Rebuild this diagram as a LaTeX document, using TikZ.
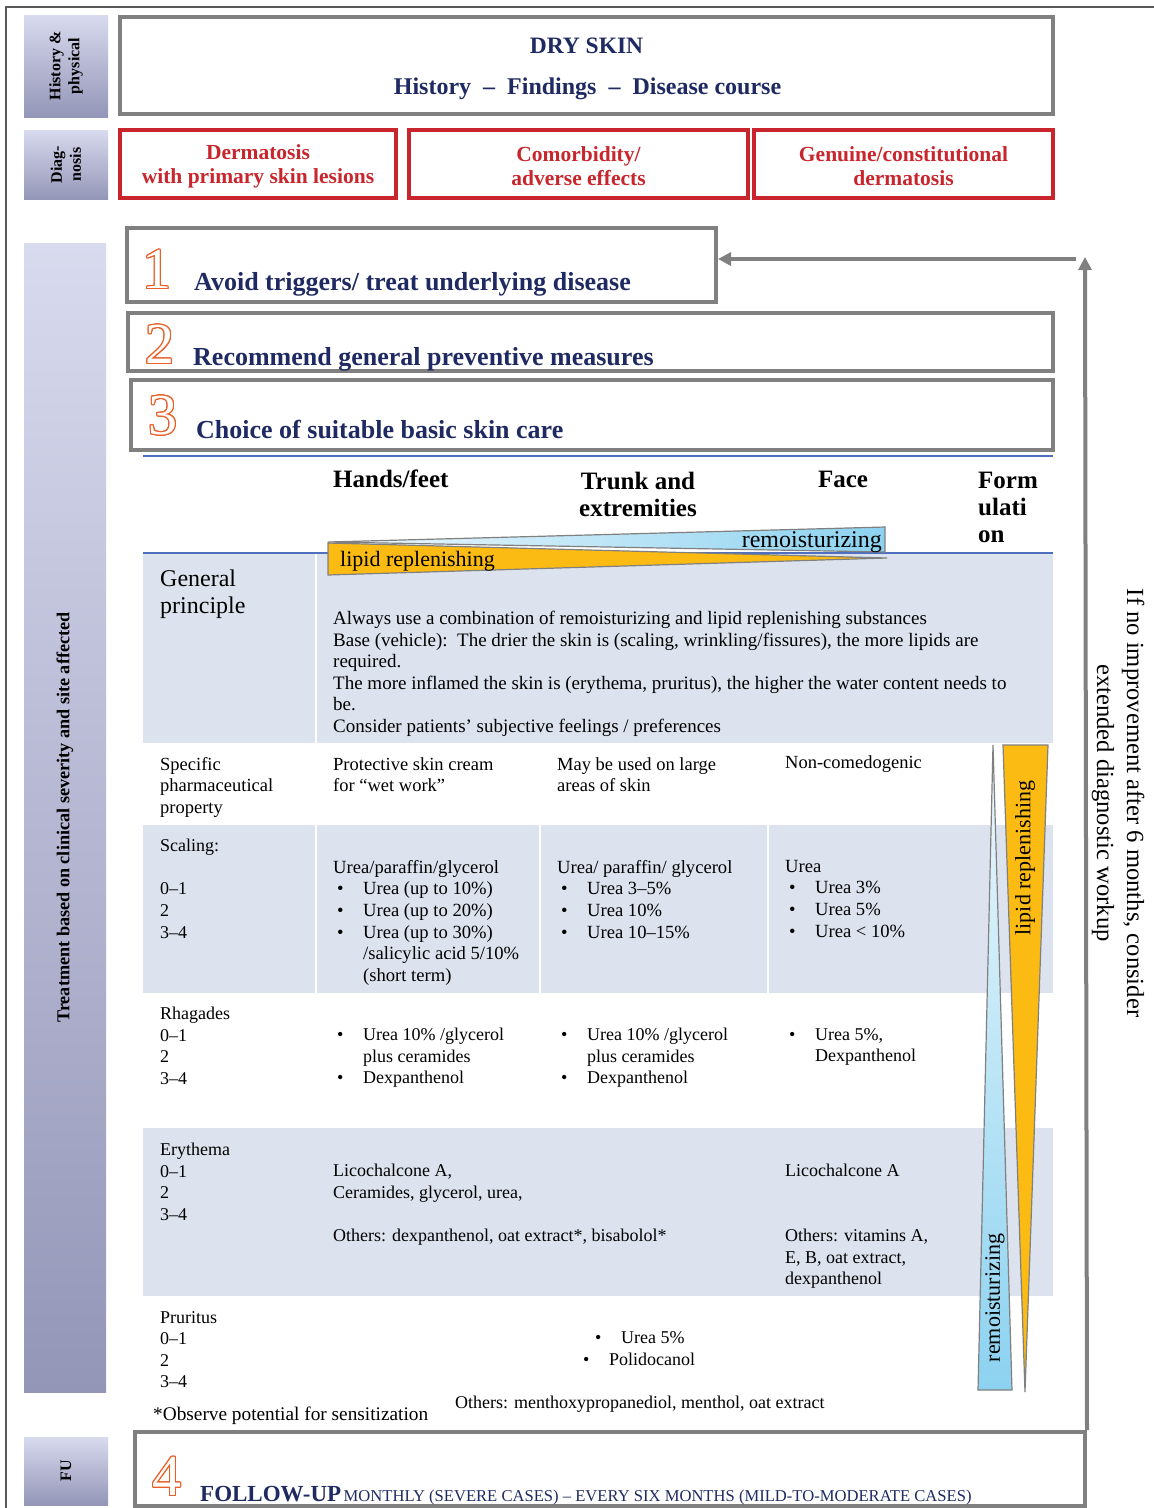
\documentclass[tikz,border=0pt]{standalone}
\usepackage{fontspec}
\setmainfont{Liberation Serif}
\usepackage{contour}
\contourlength{1.1pt}
\usetikzlibrary{arrows.meta,positioning,calc}

\definecolor{navy}{RGB}{31,42,98}
\definecolor{dxred}{RGB}{200,38,44}
\definecolor{boxgray}{RGB}{128,128,128}
\definecolor{framegray}{RGB}{90,90,90}
\definecolor{numorange}{RGB}{232,96,40}
\definecolor{lipid}{RGB}{251,187,18}
\definecolor{moist}{RGB}{140,210,240}
\definecolor{rowshade}{RGB}{221,227,238}
\definecolor{tabrule}{RGB}{78,112,190}
\definecolor{btnlight}{RGB}{216,218,238}
\definecolor{btndark}{RGB}{148,150,184}

% hohle Ziffern
\newcommand{\stepno}[1]{{\color{white}\contour{numorange}{#1}}}
% Aufzaehlung
\newcommand{\bul}{\hspace*{4pt}\makebox[26pt][l]{\textbullet}}
\newcommand{\ind}{\hspace*{30pt}}

\begin{document}
\begin{tikzpicture}[
    x=1pt, y=-1pt,
    >={Triangle[length=13pt,width=13pt]},
    sidebtn/.style  = {rotate=90, top color=btnlight, bottom color=btndark, inner sep=0pt,
                       font=\bfseries\fontsize{16}{19}\selectfont, align=center},
    graybox/.style  = {draw=boxgray, line width=4pt, fill=white, inner sep=0pt},
    redbox/.style   = {draw=dxred, line width=4pt, minimum height=68},
    redtext/.style  = {text=dxred, align=center, inner sep=0pt,
                       font=\bfseries\fontsize{21.5}{24}\selectfont},
    stepnum/.style  = {font=\fontsize{58}{58}\selectfont, inner sep=0pt},
    steptext/.style = {anchor=base west, text=navy, inner sep=0pt,
                       font=\bfseries\fontsize{26}{30}\selectfont},
    colhead/.style  = {anchor=north, align=center, inner sep=0pt,
                       font=\bfseries\fontsize{25}{27}\selectfont, execute at begin node=\strut},
    cell1/.style    = {anchor=north west, align=left, inner sep=0pt,
                       font=\fontsize{18}{21.6}\selectfont, execute at begin node=\strut},
    cell/.style     = {cell1, yshift=-4pt},
    wedge/.style    = {draw=boxgray, line width=1.2pt},
    wedgetext/.style= {inner sep=0pt, font=\fontsize{22}{26}\selectfont},
    flow/.style     = {draw=boxgray, line width=4pt, ->},
  ]

  \fill[white] (0,0) rectangle (1154,1508);
  \useasboundingbox (0,0) rectangle (1154,1508);

  % Rahmen
  \draw[framegray, line width=1.5pt] (5,7) -- (1154,7);
  \draw[framegray, line width=1.5pt] (6,7) -- (6,1508);

  % Seitenknoepfe
  \node[sidebtn, minimum width=102, minimum height=84] (hist)  at (66,66)     {History \&\\physical};
  \node[sidebtn, minimum width=69,  minimum height=84] (diag)  at (66,164.5)  {Diag-\\nosis};
  \node[sidebtn, minimum width=1149,minimum height=82, font=\bfseries\fontsize{18.2}{21}\selectfont]
        (treat) at (65,817.5) {Treatment based on clinical severity and site affected};
  \node[sidebtn, minimum width=68,  minimum height=84] (fubtn) at (66,1471)   {FU};

  % Anamnese
  \node[graybox, minimum width=933, minimum height=97] (dry) at (586.5,65.5) {};
  \node[text=navy, font=\bfseries\fontsize{23.5}{26}\selectfont] (drytitle) at (586.5,46) {DRY SKIN};
  \node[text=navy, font=\bfseries\fontsize{24}{26}\selectfont] (drysub) at (587.5,88.5)
        {History\ \ –\ \ Findings\ \ –\ \ Disease course};

  % Diagnose
  \node[redbox, minimum width=276] (dxa) at (258,164)   {};
  \node[redbox, minimum width=339] (dxb) at (578.5,164) {};
  \node[redbox, minimum width=299] (dxc) at (903.5,164) {};
  \node[redtext] (dxatext) at (258,166)   {Dermatosis\\with primary skin lesions};
  \node[redtext] (dxbtext) at (578.5,166) {Comorbidity/\\adverse effects};
  \node[redtext] (dxctext) at (903.5,166) {Genuine/constitutional\\dermatosis};

  % Schritte 1-3
  \node[graybox, minimum width=589, minimum height=74] (box1) at (421.5,265) {};
  \node[graybox, minimum width=925, minimum height=58] (box2) at (590.5,342) {};
  \node[graybox, minimum width=922, minimum height=70] (box3) at (592,415)   {};
  \node[stepnum] (num1) at (157,270) {\stepno{1}};
  \node[stepnum] (num2) at (160,345) {\stepno{2}};
  \node[stepnum] (num3) at (163,416) {\stepno{3}};
  \node[steptext] (step1) at (194,290) {Avoid triggers/ treat underlying disease};
  \node[steptext] (step2) at (193,365) {Recommend general preventive measures};
  \node[steptext] (step3) at (196,438) {Choice of suitable basic skin care};

  % Tabelle
  \fill[rowshade] (143,553)  rectangle (1053,743);
  \fill[rowshade] (143,825)  rectangle (1053,993);
  \fill[rowshade] (143,1128) rectangle (1053,1296);
  \draw[white, line width=1.5pt] (316,553) -- (316,743);
  \foreach \cx in {316,540,768}
    \draw[white, line width=1.5pt] (\cx,825) -- (\cx,993);
  \draw[tabrule, line width=2pt] (143,456) -- (1053,456);
  \draw[tabrule, line width=2pt] (143,553) -- (1053,553);

  \node[colhead, anchor=north west] (hhands) at (333,468) {Hands/feet};
  \node[colhead, yshift=-4pt] (htrunk) at (638,468) {Trunk and\\extremities};
  \node[colhead] (hface)  at (843,468) {Face};
  \node[colhead, yshift=-4pt, anchor=north west, align=left] (hform) at (978,468) {Form\\ulati\\on};

  % Keile waagrecht
  \path[wedge, left color=moist!15, right color=moist] (328,542) -- (885,527) -- (885,552) -- cycle;
  \path[wedge, fill=lipid] (328,543) -- (328,575) -- (887,558) -- cycle;
  \node[wedgetext, anchor=base west] (hlipid) at (340,566) {lipid replenishing};
  \node[wedgetext, anchor=base east, font=\fontsize{24}{26}\selectfont] (hmoist) at (882,547) {remoisturizing};

  % Allgemein
  \node[cell, font=\fontsize{24}{27}\selectfont, yshift=-2pt] (gplab) at (160,564) {General\\principle};
  \node[cell, font=\fontsize{19}{21.6}\selectfont] (gptext) at (333,607) {Always use a combination of remoisturizing and lipid replenishing substances\\
    Base (vehicle):\ \ The drier the skin is (scaling, wrinkling/fissures), the more lipids are\\
    required.\\
    The more inflamed the skin is (erythema, pruritus), the higher the water content needs to\\
    be.\\
    Consider patients’ subjective feelings / preferences};

  % Spezifisch
  \node[cell, font=\fontsize{18.5}{21.6}\selectfont] (splab) at (160,753) {Specific\\pharmaceutical\\property};
  \node[cell, font=\fontsize{18.5}{21.6}\selectfont] (sphand) at (333,753) {Protective skin cream\\for “wet work”};
  \node[cell, font=\fontsize{18.5}{21.6}\selectfont] (sptrunk) at (557,753) {May be used on large\\areas of skin};
  \node[cell1, font=\fontsize{18.5}{21.6}\selectfont] (spface) at (785,753) {Non-comedogenic};

  % Schuppung
  \node[cell] (sclab) at (160,835) {Scaling:\\[21.6pt]0–1\\2\\3–4};
  \node[cell, font=\fontsize{18.6}{21.6}\selectfont] (schand) at (333,856) {Urea/paraffin/glycerol\\\bul Urea (up to 10\%)\\\bul Urea (up to 20\%)\\
    \bul Urea (up to 30\%)\\\ind /salicylic acid 5/10\%\\\ind (short term)};
  \node[cell, font=\fontsize{18.6}{21.6}\selectfont] (sctrunk) at (557,856) {Urea/ paraffin/ glycerol\\\bul Urea 3–5\%\\\bul Urea 10\%\\\bul Urea 10–15\%};
  \node[cell, font=\fontsize{18.6}{21.6}\selectfont] (scface) at (785,856) {Urea\\\bul Urea 3\%\\\bul Urea 5\%\\\bul Urea < 10\%};

  % Rhagaden
  \node[cell] (rhlab) at (160,1003) {Rhagades\\0–1\\2\\3–4};
  \node[cell] (rhhand) at (333,1024) {\bul Urea 10\% /glycerol\\\ind plus ceramides\\\bul Dexpanthenol};
  \node[cell] (rhtrunk) at (557,1024) {\bul Urea 10\% /glycerol\\\ind plus ceramides\\\bul Dexpanthenol};
  \node[cell] (rhface) at (785,1024) {\bul Urea 5\%,\\\ind Dexpanthenol};

  % Erythem
  \node[cell] (erlab) at (160,1139) {Erythema\\0–1\\2\\3–4};
  \node[cell] (erhand) at (333,1160) {Licochalcone A,\\Ceramides, glycerol, urea,\\[21.6pt]
    Others: dexpanthenol, oat extract*, bisabolol*};
  \node[cell] (erface) at (785,1160) {Licochalcone A\\[43.2pt]Others: vitamins A,\\E, B, oat extract,\\dexpanthenol};

  % Pruritus
  \node[cell] (prlab) at (160,1307) {Pruritus\\0–1\\2\\3–4};
  \node[cell1] (prurea) at (591,1328) {\bul Urea 5\%};
  \node[cell1] (prpoli) at (579,1350) {\bul Polidocanol};
  \node[cell1] (prother) at (455,1393) {Others: menthoxypropanediol, menthol, oat extract};
  \node[cell1, font=\fontsize{19.3}{21.6}\selectfont] (fnote) at (153,1405) {*Observe potential for sensitization};

  % Keile senkrecht
  \path[wedge, top color=moist!15, bottom color=moist] (993,745) -- (1012,1390) -- (978,1390) -- cycle;
  \path[wedge, fill=lipid] (1003,745) -- (1048,745) -- (1025,1392) -- cycle;
  \node[wedgetext, rotate=90] (vlipid) at (1025,858) {lipid replenishing};
  \node[wedgetext, rotate=90] (vmoist) at (995,1298) {remoisturizing};

  % Nachkontrolle
  \node[graybox, minimum width=950, minimum height=74] (fu) at (610,1469) {};
  \node[stepnum] (num4) at (167,1477) {\stepno{4}};
  \node[anchor=base west, inner sep=0pt, text=navy] (futext) at (200,1501)
        {{\bfseries\fontsize{23}{28}\selectfont FOLLOW-UP}\ {\fontsize{16.6}{18}\selectfont MONTHLY (SEVERE CASES) – EVERY SIX MONTHS (MILD-TO-MODERATE CASES)}};

  % Rueckfuehrung
  \coordinate (loop) at (1085,257);
  \coordinate (back) at (1076,259);
  \draw[flow] (fu.north east) -- (loop);
  \draw[flow] (back) -- (back -| box1.east);
  \node[rotate=-90, align=center, inner sep=0pt, font=\fontsize{24.6}{30}\selectfont] (redo) at (1118,803)
        {If no improvement after 6 months, consider\\extended diagnostic workup};

\end{tikzpicture}
\end{document}
